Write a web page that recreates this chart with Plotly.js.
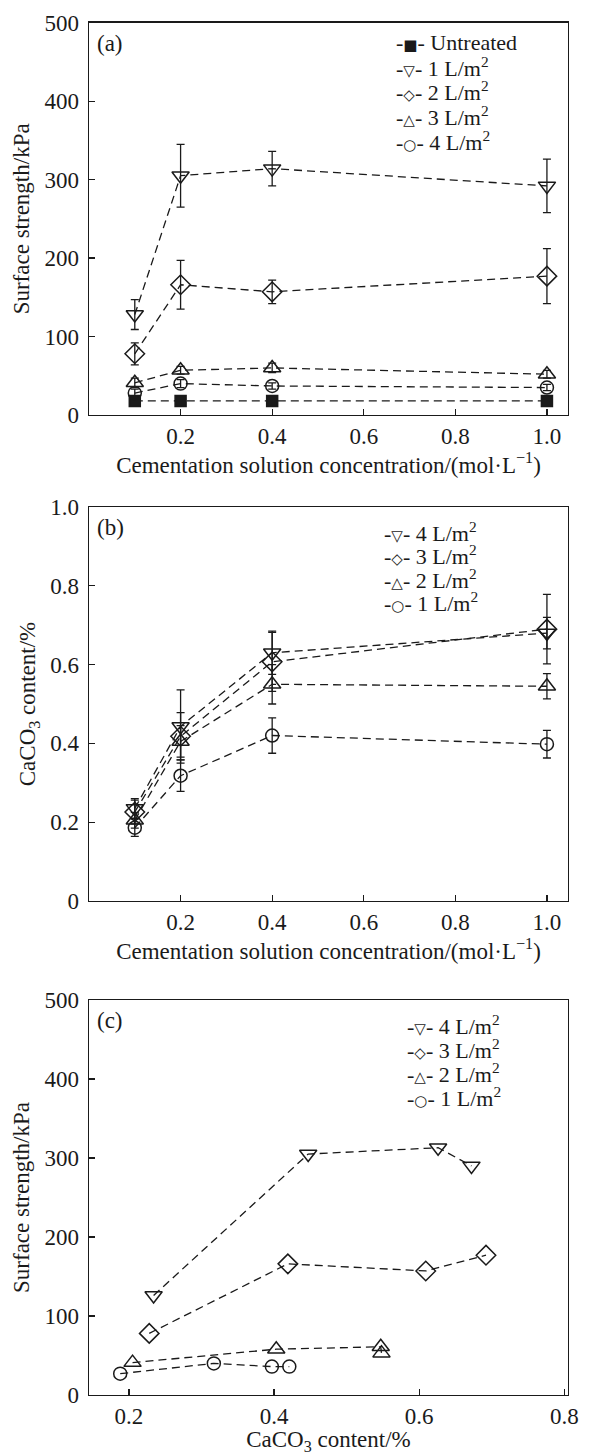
<!DOCTYPE html>
<html>
<head>
<meta charset="utf-8">
<script src="https://cdn.plot.ly/plotly-3.0.1.min.js"></script>
<style>
  html, body { margin: 0; padding: 0; background: #fff; }
  #chart { width: 595px; height: 1455px; }
</style>
</head>
<body>
<div id="chart"></div>
<script>
// ---------------- DATA ----------------
// Panel (a): surface strength vs cementation solution concentration
const concentration = [0.1, 0.2, 0.4, 1.0];
const aNames = ["Untreated", "1 L/m<sup>2</sup>", "2 L/m<sup>2</sup>", "3 L/m<sup>2</sup>", "4 L/m<sup>2</sup>"];
const aUntreated = [18, 18, 18, 18];
const aUntreatedErr = [3, 3, 3, 3];
const a1L = [128, 305, 314, 292];
const a1LErr = [19, 40, 22, 34];
const a2L = [78, 166, 157, 177];
const a2LErr = [14, 31, 15, 35];
const a3L = [41, 57, 60, 52];
const a3LErr = [6, 5, 6, 5];
const a4L = [28, 40, 37, 35];
const a4LErr = [5, 5, 4, 4];

// Panel (b): CaCO3 content vs cementation solution concentration
const bNames = ["4 L/m<sup>2</sup>", "3 L/m<sup>2</sup>", "2 L/m<sup>2</sup>", "1 L/m<sup>2</sup>"];
const b4L = [0.235, 0.443, 0.630, 0.680];
const b4LErr = [0.025, 0.093, 0.055, 0.040];
const b3L = [0.226, 0.418, 0.607, 0.690];
const b3LErr = [0.030, 0.060, 0.075, 0.088];
const b2L = [0.205, 0.405, 0.550, 0.545];
const b2LErr = [0.020, 0.040, 0.050, 0.032];
const b1L = [0.186, 0.318, 0.420, 0.398];
const b1LErr = [0.022, 0.040, 0.045, 0.035];

// Panel (c): surface strength vs CaCO3 content
const cNames = ["4 L/m<sup>2</sup>", "3 L/m<sup>2</sup>", "2 L/m<sup>2</sup>", "1 L/m<sup>2</sup>"];
const c4Lx = [0.234, 0.447, 0.626, 0.672];
const c4Ly = [126, 305, 313, 290];
const c3Lx = [0.228, 0.419, 0.609, 0.692];
const c3Ly = [78, 166, 157, 177];
const c2Lx = [0.205, 0.403, 0.547, 0.548];
const c2Ly = [41, 58, 61, 53];
const c1Lx = [0.188, 0.317, 0.397, 0.421];
const c1Ly = [27, 40, 36, 36];

// Tick labels
const abXTicks = [0.2, 0.4, 0.6, 0.8, 1.0];
const abXTickText = ["0.2", "0.4", "0.6", "0.8", "1.0"];
const strengthTicks = [0, 100, 200, 300, 400, 500];
const strengthTickText = ["0", "100", "200", "300", "400", "500"];
const caco3Ticks = [0, 0.2, 0.4, 0.6, 0.8, 1.0];
const caco3TickText = ["0", "0.2", "0.4", "0.6", "0.8", "1.0"];
const cXTicks = [0.2, 0.4, 0.6, 0.8];
const cXTickText = ["0.2", "0.4", "0.6", "0.8"];

// Legend glyphs (text symbols)
const aGlyphs = ["\u25A0", "\u25BD", "\u25C7", "\u25B3", "\u25CB"];
const bcGlyphs = ["\u25BD", "\u25C7", "\u25B3", "\u25CB"];

// ---------------- STYLE ----------------
const W = 595, H = 1455;
const FONT = "Liberation Serif, Times New Roman, serif";
const INK = "#1a1a1a";
const DASH = "8px,5px";

function series(x, y, err, symbol, size, xa, ya, name) {
  const t = {
    x: x, y: y, name: name, xaxis: xa, yaxis: ya,
    type: "scatter", mode: "lines+markers", showlegend: false,
    line: { color: INK, width: 1.3, dash: DASH },
    marker: { symbol: symbol, size: size, color: INK,
              line: { color: INK, width: 1.5 } },
    cliponaxis: false
  };
  if (err) {
    t.error_y = { type: "data", array: err, visible: true,
                  color: INK, thickness: 1.3, width: 4 };
  }
  return t;
}

const traces = [
  series(concentration, aUntreated, aUntreatedErr, "square", 11, "x", "y", aNames[0]),
  series(concentration, a1L, a1LErr, "triangle-down-open", 15, "x", "y", aNames[1]),
  series(concentration, a2L, a2LErr, "diamond-open", 15, "x", "y", aNames[2]),
  series(concentration, a3L, a3LErr, "triangle-up-open", 15, "x", "y", aNames[3]),
  series(concentration, a4L, a4LErr, "circle-open", 13, "x", "y", aNames[4]),

  series(concentration, b4L, b4LErr, "triangle-down-open", 15, "x2", "y2", bNames[0]),
  series(concentration, b3L, b3LErr, "diamond-open", 15, "x2", "y2", bNames[1]),
  series(concentration, b2L, b2LErr, "triangle-up-open", 15, "x2", "y2", bNames[2]),
  series(concentration, b1L, b1LErr, "circle-open", 13, "x2", "y2", bNames[3]),

  series(c4Lx, c4Ly, null, "triangle-down-open", 15, "x3", "y3", cNames[0]),
  series(c3Lx, c3Ly, null, "diamond-open", 15, "x3", "y3", cNames[1]),
  series(c2Lx, c2Ly, null, "triangle-up-open", 15, "x3", "y3", cNames[2]),
  series(c1Lx, c1Ly, null, "circle-open", 13, "x3", "y3", cNames[3])
];

// pixel -> paper helpers
const px = v => v / W;
const py = v => 1 - v / H;

const xDom = [px(89), px(568)];
function axisBase() {
  return {
    showline: true, mirror: true, linecolor: INK, linewidth: 1.3,
    ticks: "inside", ticklen: 6, tickwidth: 1.3, tickcolor: INK,
    showgrid: false, zeroline: false, automargin: false,
    tickfont: { family: FONT, size: 23, color: INK },
    title: { font: { family: FONT, size: 23, color: INK } }
  };
}
function xAxis(anchor, range, tv, tt, title) {
  const a = axisBase();
  Object.assign(a, { domain: xDom, anchor: anchor, range: range,
    tickmode: "array", tickvals: tv, ticktext: tt });
  a.title.text = title; a.title.standoff = 2;
  return a;
}
function yAxis(anchor, dom, range, tv, tt, title) {
  const a = axisBase();
  Object.assign(a, { domain: dom, anchor: anchor, range: range,
    tickmode: "array", tickvals: tv, ticktext: tt, ticklabelstandoff: 4 });
  a.title.text = title; a.title.standoff = 8;
  return a;
}

const concTitle = "Cementation solution concentration/(mol\u00B7L<sup>\u22121</sup>)";

const layout = {
  width: W, height: H,
  margin: { l: 0, r: 0, t: 0, b: 0 },
  paper_bgcolor: "#fff", plot_bgcolor: "#fff",
  showlegend: false,
  font: { family: FONT, size: 23, color: INK },
  xaxis: xAxis("y", [0, 1.046], abXTicks, abXTickText, concTitle),
  yaxis: yAxis("x", [py(415), py(22.7)], [0, 500], strengthTicks, strengthTickText, "Surface strength/kPa"),
  xaxis2: xAxis("y2", [0, 1.046], abXTicks, abXTickText, concTitle),
  yaxis2: yAxis("x2", [py(901), py(507)], [0, 1], caco3Ticks, caco3TickText, "CaCO<sub>3</sub> content/%"),
  xaxis3: xAxis("y3", [0.145, 0.805], cXTicks, cXTickText, "CaCO<sub>3</sub> content/%"),
  yaxis3: yAxis("x3", [py(1395), py(1000)], [0, 500], strengthTicks, strengthTickText, "Surface strength/kPa"),
  annotations: []
};

// panel labels
[["(a)", 43], ["(b)", 527], ["(c)", 1021]].forEach(([t, y]) => {
  layout.annotations.push({ xref: "paper", yref: "paper", x: px(95), y: py(y),
    xanchor: "left", yanchor: "middle", showarrow: false, text: t,
    font: { family: FONT, size: 23, color: INK } });
});

// legends built as text entries
function legendEntries(names, glyphs, xSym, yStart, step) {
  names.forEach((n, i) => {
    const sym = '-<span style="font-family:DejaVu Sans;font-size:15px">' + glyphs[i] + '</span>- ';
    layout.annotations.push({ xref: "paper", yref: "paper",
      x: px(xSym), y: py(yStart + i * step), xanchor: "left", yanchor: "middle",
      showarrow: false, text: sym + n, borderpad: 0,
      font: { family: FONT, size: 22, color: INK } });
  });
}
legendEntries(aNames, aGlyphs, 395, 42, 24.7);
legendEntries(bNames, bcGlyphs, 383, 532, 23.4);
legendEntries(cNames, bcGlyphs, 406, 1025, 23.9);

Plotly.newPlot("chart", traces, layout, { staticPlot: true, displayModeBar: false });
</script>
</body>
</html>
